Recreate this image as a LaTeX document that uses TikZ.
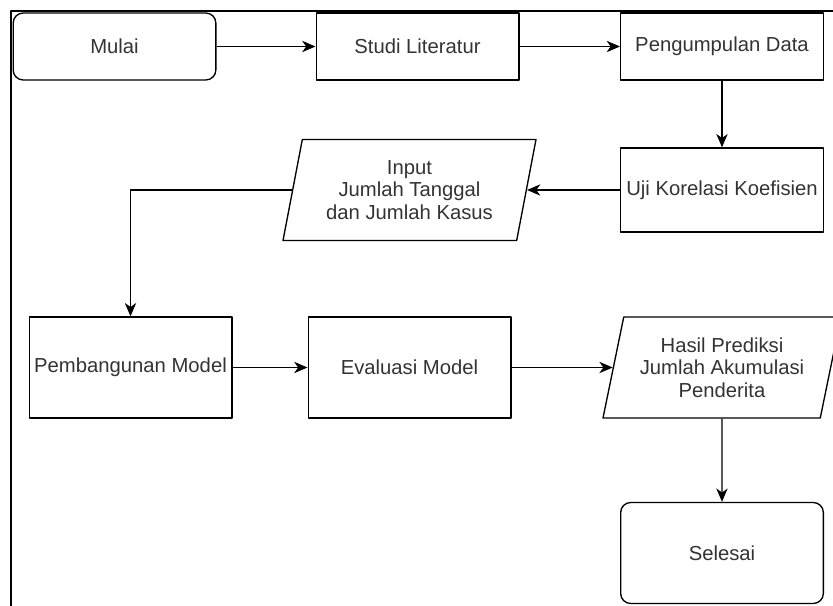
\documentclass[tikz,border=0pt]{standalone}
\usepackage{fontspec}
\setmainfont{Liberation Sans}
\usetikzlibrary{shapes.geometric,arrows.meta}
\definecolor{teks}{RGB}{51,51,51}
\begin{document}
\begin{tikzpicture}[x=0.75pt, y=-0.75pt, font=\fontsize{15.2pt}{17pt}\selectfont, line join=round,
		>={Stealth[length=10pt,width=8.5pt,inset=3pt]},
		kotak/.style={draw, line width=1pt, text=teks, inner sep=0pt, align=center},
		proses/.style={kotak, rectangle, minimum width=152pt},
		terminal/.style={kotak, rectangle, rounded corners=7.5pt, minimum width=152pt},
		data/.style={kotak, trapezium, trapezium stretches body, minimum height=75.75pt},
		panah/.style={->, line width=1pt}]
	\useasboundingbox (0,0) rectangle (833,606);
	\draw[line width=1.6pt] (11,620) -- (11,11) -- (850,11);
	\node[terminal, minimum height=50.25pt] (mulai) at (114.5,46.5) {Mulai};
	\node[proses, minimum height=50.25pt] (studi) at (417.5,46.5) {Studi Literatur};
	\node[proses, minimum height=50.25pt] (kumpul) at (722,46.5) {Pengumpulan Data};
	\node[proses, minimum height=63pt] (uji) at (722,190) {Uji Korelasi Koefisien};
	\node[data, trapezium left angle=72, trapezium right angle=108, minimum width=189.75pt] (input) at (409.5,190) {Input\\Jumlah Tanggal\\dan Jumlah Kasus};
	\node[proses, minimum height=75.75pt] (bangun) at (130.5,367.5) {Pembangunan Model};
	\node[proses, minimum height=75.75pt] (evaluasi) at (409.5,367.5) {Evaluasi Model};
	\node[data, trapezium left angle=71, trapezium right angle=109, minimum width=178.5pt] (hasil) at (722,367.5) {Hasil Prediksi\\Jumlah Akumulasi\\Penderita};
	\node[terminal, minimum height=75.75pt] (selesai) at (722,553) {Selesai};
	\draw[panah] (mulai) -- (studi);
	\draw[panah] (studi) -- (kumpul);
	\draw[panah] (kumpul) -- (uji);
	\draw[panah] (uji) -- (input.right side);
	\draw[panah] (input.left side) -| (bangun);
	\draw[panah] (bangun) -- (evaluasi);
	\draw[panah] (evaluasi) -- (hasil.left side);
	\draw[panah] (hasil) -- (selesai);
\end{tikzpicture}
\end{document}
